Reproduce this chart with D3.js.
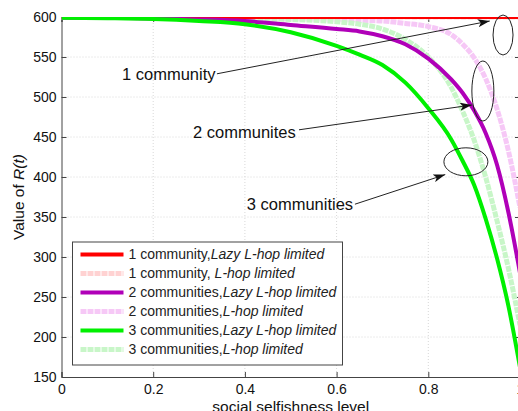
<!DOCTYPE html>
<html>
<head>
<meta charset="utf-8">
<script src="https://cdn.jsdelivr.net/npm/d3@7"></script>
<style>
  body { margin: 0; background: #fff; }
  svg { display: block; font-family: "Liberation Sans", Arial, sans-serif; }
</style>
</head>
<body>
<div id="vis"></div>
<script>
// data
const xs = [0, 0.1, 0.2, 0.3, 0.4, 0.5, 0.6, 0.65, 0.7, 0.75, 0.8, 0.85, 0.875, 0.9, 0.925, 0.95, 0.975, 1.0];
const oneLazy   = [600, 600, 600, 600, 600, 600, 600, 600, 600, 600, 600, 600, 600, 600, 600, 600, 600, 600];
const oneHop    = [600, 600, 600, 600, 600, 600, 600, 600, 600, 600, 600, 600, 600, 600, 600, 600, 600, 600];
const twoLazy   = [599, 599, 598, 597, 595, 590, 585, 582, 576, 566, 548, 522, 505, 483, 455, 415, 355, 280];
const twoHop    = [599.5, 599.5, 599.5, 599, 599, 598, 597, 596, 595, 592, 588, 578, 566, 549, 523, 485, 432, 362];
const threeLazy = [599, 598.5, 597.5, 595, 591, 581, 564, 553, 540, 518, 486, 447, 420, 390, 348, 298, 238, 162];
const threeHop  = [599.5, 599.5, 599, 599, 598, 597, 594, 591, 585, 572, 550, 512, 482, 446, 400, 345, 285, 215];

const xTicks = [0, 0.2, 0.4, 0.6, 0.8, 1];
const yTicks = [150, 200, 250, 300, 350, 400, 450, 500, 550, 600];

const labels = [
  ['1 community,', 'Lazy L-hop limited'],
  ['1 community, ', 'L-hop limited'],
  ['2 communities,', 'Lazy L-hop limited'],
  ['2 communities,', 'L-hop limited'],
  ['3 communities,', 'Lazy L-hop limited'],
  ['3 communities,', 'L-hop limited']
];

// annotations in data units
const notes = [
  { text: '1 community',   x: 0.132, y: 529, from: [0.339, 529], to: [0.934, 595], ell: [0.963, 577.5], rx: 10, ry: 20 },
  { text: '2 communites',  x: 0.287, y: 456, from: [0.518, 459], to: [0.895, 490], ell: [0.919, 507.5], rx: 11, ry: 30 },
  { text: '3 communities', x: 0.404, y: 366, from: [0.640, 366], to: [0.837, 403], ell: [0.882, 419], rx: 22, ry: 14 }
];

// margin
const margin = { top: 17, left: 61.5 };
const width = 458.5;
const height = 360;

const root = d3.select('#vis')
  .append('svg')
  .attr('width', 518)
  .attr('height', 411);

const svg = root.append('g')
  .attr('transform', `translate(${margin.left},${margin.top})`);

// scales
const xScale = d3.scaleLinear().domain([0, 1]).range([0, width]);
const yScale = d3.scaleLinear().domain([150, 600]).range([height, 0]);

// grid
svg.append('g').selectAll('line')
  .data(xTicks.slice(1, -1))
  .join('line')
  .attr('x1', d => xScale(d)).attr('x2', d => xScale(d))
  .attr('y1', 0).attr('y2', height)
  .attr('stroke', '#d8d8d8').attr('stroke-dasharray', '1,2');

svg.append('g').selectAll('line')
  .data(yTicks.slice(1, -1))
  .join('line')
  .attr('x1', 0).attr('x2', width)
  .attr('y1', d => yScale(d)).attr('y2', d => yScale(d))
  .attr('stroke', '#d8d8d8').attr('stroke-dasharray', '1,2');

// axes (ticks inward like matlab)
const xAxis = svg.append('g')
  .attr('transform', `translate(0,${height})`)
  .call(d3.axisBottom(xScale).tickValues(xTicks).tickSize(-5).tickPadding(7).tickFormat(d3.format('')));
const xTop = svg.append('g')
  .call(d3.axisTop(xScale).tickValues(xTicks).tickSize(-5).tickFormat(''));
const yAxis = svg.append('g')
  .call(d3.axisLeft(yScale).tickValues(yTicks).tickSize(-5).tickPadding(5));
const yRight = svg.append('g')
  .attr('transform', `translate(${width},0)`)
  .call(d3.axisRight(yScale).tickValues(yTicks).tickSize(-5).tickFormat(''));

[xAxis, xTop, yAxis, yRight].forEach(a => {
  a.select('.domain').attr('stroke', '#444');
  a.selectAll('.tick line').attr('stroke', '#444');
  a.selectAll('text').attr('font-size', 14).attr('fill', '#111')
    .attr('font-family', '"Liberation Sans", Arial, sans-serif');
});

// clip
svg.append('clipPath').attr('id', 'clip')
  .append('rect').attr('width', width).attr('height', height);

const line = d3.line()
  .x((d, i) => xScale(xs[i]))
  .y(d => yScale(d))
  .curve(d3.curveMonotoneX);

const series = [
  { v: oneHop,    color: '#ffd2d2', w: 5, dash: '6,1' },
  { v: twoHop,    color: '#f6c8f6', w: 5, dash: '6,1' },
  { v: threeHop,  color: '#c8f6c8', w: 5, dash: '6,1' },
  { v: oneLazy,   color: '#ff0000', w: 4 },
  { v: twoLazy,   color: '#b000b8', w: 4 },
  { v: threeLazy, color: '#00f000', w: 4 }
];

svg.append('g').attr('clip-path', 'url(#clip)')
  .selectAll('path')
  .data(series)
  .join('path')
  .attr('d', d => line(d.v))
  .attr('fill', 'none')
  .attr('stroke', d => d.color)
  .attr('stroke-width', d => d.w)
  .attr('stroke-dasharray', d => d.dash || null);

// annotations
root.append('defs').append('marker')
  .attr('id', 'arrow')
  .attr('viewBox', '0 0 12 8')
  .attr('refX', 12).attr('refY', 4)
  .attr('markerWidth', 12).attr('markerHeight', 8)
  .attr('markerUnits', 'userSpaceOnUse')
  .attr('orient', 'auto')
  .append('path')
  .attr('d', 'M0,0 L12,4 L0,8 L3,4 Z')
  .attr('fill', '#111');

const ann = svg.append('g');
ann.selectAll('text')
  .data(notes)
  .join('text')
  .attr('x', d => xScale(d.x))
  .attr('y', d => yScale(d.y))
  .attr('dy', '0.35em')
  .attr('font-size', 16.5)
  .attr('fill', '#111')
  .text(d => d.text);

ann.selectAll('line')
  .data(notes)
  .join('line')
  .attr('x1', d => xScale(d.from[0])).attr('y1', d => yScale(d.from[1]))
  .attr('x2', d => xScale(d.to[0])).attr('y2', d => yScale(d.to[1]))
  .attr('stroke', '#222').attr('stroke-width', 1)
  .attr('marker-end', 'url(#arrow)');

ann.selectAll('ellipse')
  .data(notes)
  .join('ellipse')
  .attr('cx', d => xScale(d.ell[0])).attr('cy', d => yScale(d.ell[1]))
  .attr('rx', d => d.rx).attr('ry', d => d.ry)
  .attr('fill', 'none').attr('stroke', '#222').attr('stroke-width', 1);

// legend
const legend = svg.append('g').attr('transform', 'translate(11,225)');
legend.append('rect')
  .attr('width', 270).attr('height', 123)
  .attr('fill', '#fff').attr('stroke', '#444');

const legendOrder = [series[3], series[0], series[4], series[1], series[5], series[2]];
const rows = legend.selectAll('g.row')
  .data(legendOrder)
  .join('g')
  .attr('class', 'row')
  .attr('transform', (d, i) => `translate(0,${12.5 + i * 19})`);

rows.append('line')
  .attr('x1', 8).attr('x2', 51)
  .attr('stroke', d => d.color)
  .attr('stroke-width', d => d.w)
  .attr('stroke-dasharray', d => d.dash || null);

const lt = rows.append('text')
  .attr('x', 56).attr('dy', '0.35em')
  .attr('font-size', 14).attr('fill', '#222');
lt.append('tspan').text((d, i) => labels[i][0]);
lt.append('tspan').attr('font-style', 'italic').text((d, i) => labels[i][1]);

// axis labels
svg.append('text')
  .attr('x', width / 2).attr('y', height + 35)
  .attr('text-anchor', 'middle')
  .attr('font-size', 15.5).attr('fill', '#111')
  .text('social selfishness level');

const yl = svg.append('text')
  .attr('transform', `translate(${19 - margin.left},${height / 2}) rotate(-90)`)
  .attr('text-anchor', 'middle')
  .attr('dy', '0.35em')
  .attr('font-size', 15.5).attr('fill', '#111');
yl.append('tspan').text('Value of ');
yl.append('tspan').attr('font-style', 'italic').text('R(t)');
</script>
</body>
</html>
